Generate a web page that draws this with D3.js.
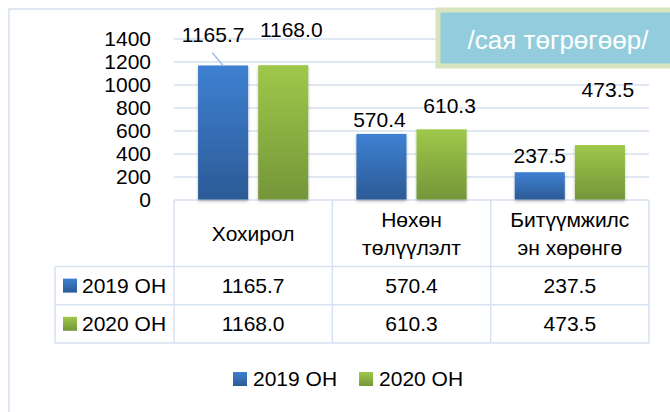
<!DOCTYPE html>
<html>
<head>
<meta charset="utf-8">
<script src="https://cdn.jsdelivr.net/npm/d3@7"></script>
<style>
  body { margin: 0; background: #fff; }
  text { font-family: "Liberation Sans", Arial, sans-serif; }
</style>
</head>
<body>
<div id="chart"></div>
<script>
// data
const categories = ['Хохирол', 'Нөхөн төлүүлэлт', 'Битүүмжилсэн хөрөнгө'];
const categoryLines = [['Хохирол'], ['Нөхөн', 'төлүүлэлт'], ['Битүүмжилс', 'эн хөрөнгө']];
const seriesNames = ['2019 ОН', '2020 ОН'];
const values2019 = [1165.7, 570.4, 237.5];
const values2020 = [1168.0, 610.3, 473.5];
const yTicks = [0, 200, 400, 600, 800, 1000, 1200, 1400];
const unitLabel = '/сая төгрөгөөр/';

// label nudges (px) - labels were moved by hand in the original
const labelNudge = [
  [[-10, -23], [8, -28]],
  [[-2, -7], [8, -16]],
  [[0, -9], [8, -48]]
];

const width = 670, height = 412;
const plot = {left: 174, right: 649, top: 38.5, bottom: 199.5};
const gridColor = '#d6e1f1';
const fontSize = '21px';
const colors = {
  '2019 ОН': ['#3f80d2', '#2c5b97'],
  '2020 ОН': ['#9ec84a', '#759639']
};

const series = [values2019, values2020];
const data = categories.map((c, i) => ({
  cat: c, i: i,
  vals: seriesNames.map((s, j) => ({name: s, value: series[j][i], j: j}))
}));

const svg = d3.select('#chart').append('svg')
  .attr('width', width).attr('height', height);

const defs = svg.append('defs');
seriesNames.forEach((s, j) => {
  const lg = defs.append('linearGradient')
    .attr('id', 'grad' + j)
    .attr('x1', 0).attr('y1', 0).attr('x2', 0).attr('y2', 1);
  lg.append('stop').attr('offset', '0%').attr('stop-color', colors[s][0]);
  lg.append('stop').attr('offset', '100%').attr('stop-color', colors[s][1]);
});
defs.append('filter').attr('id', 'shadow')
  .attr('x', '-20%').attr('y', '-10%').attr('width', '140%').attr('height', '130%')
  .append('feDropShadow')
  .attr('dx', 0).attr('dy', 2).attr('stdDeviation', 1.5)
  .attr('flood-color', '#000').attr('flood-opacity', 0.25);

// outer frame
svg.append('rect')
  .attr('x', 9).attr('y', 9).attr('width', 700).attr('height', 500)
  .attr('fill', 'none').attr('stroke', '#d5e0f0').attr('stroke-width', 1.5);

const x0 = d3.scaleBand()
  .domain(categories)
  .range([plot.left, plot.right])
  .padding(0);
const x1 = d3.scaleBand()
  .domain(seriesNames)
  .range([0, x0.bandwidth()])
  .paddingInner(1 / 6)
  .paddingOuter(0.4);
const y = d3.scaleLinear()
  .domain([0, 1400])
  .range([plot.bottom, plot.top]);

// y axis + gridlines
const yAxis = svg.append('g')
  .attr('transform', `translate(${plot.left},0)`)
  .call(d3.axisLeft(y)
    .tickValues(yTicks)
    .tickSize(-(plot.right - plot.left))
    .tickPadding(23)
    .tickFormat(d3.format('d')));
yAxis.select('.domain').remove();
yAxis.selectAll('.tick line')
  .attr('stroke', gridColor).attr('stroke-width', 1.5);
yAxis.selectAll('.tick text')
  .style('font-size', fontSize)
  .attr('fill', '#000');

// bars
const groups = svg.append('g').selectAll('g')
  .data(data)
  .join('g')
  .attr('transform', d => `translate(${x0(d.cat)},0)`);

groups.selectAll('rect')
  .data(d => d.vals)
  .join('rect')
  .attr('x', d => x1(d.name))
  .attr('y', d => y(d.value))
  .attr('width', x1.bandwidth())
  .attr('height', d => y(0) - y(d.value))
  .attr('fill', d => `url(#grad${d.j})`)
  .attr('filter', 'url(#shadow)');

// data labels
groups.each(function(d) {
  const g = d3.select(this);
  d.vals.forEach(v => {
    const nx = labelNudge[d.i][v.j][0];
    const ny = labelNudge[d.i][v.j][1];
    const cx = x1(v.name) + x1.bandwidth() / 2;
    g.append('text')
      .attr('x', cx + nx)
      .attr('y', y(v.value) + ny)
      .attr('text-anchor', 'middle')
      .style('font-size', fontSize)
      .text(v.value.toFixed(1));
  });
});

// leader line for the first label
{
  const c = categories[0], s = seriesNames[0];
  const cx = x0(c) + x1(s) + x1.bandwidth() / 2;
  svg.append('line')
    .attr('x1', cx - 11).attr('y1', y(values2019[0]) - 13)
    .attr('x2', cx).attr('y2', y(values2019[0]))
    .attr('stroke', '#9dc0e6').attr('stroke-width', 1.5);
}

// data table
const tbl = {left: 55, top: 200, head: 266.5, row: 38.2};
const tbottom = tbl.head + tbl.row * seriesNames.length;
const tg = svg.append('g')
  .attr('stroke', gridColor).attr('stroke-width', 1.5).attr('fill', 'none');
// vertical lines
x0.domain().concat(['end']).forEach((c, i) => {
  const xx = i < categories.length ? x0(c) : plot.right;
  tg.append('line')
    .attr('x1', xx).attr('x2', xx)
    .attr('y1', tbl.top).attr('y2', tbottom);
});
tg.append('line')
  .attr('x1', tbl.left).attr('x2', tbl.left)
  .attr('y1', tbl.head).attr('y2', tbottom);
// horizontal lines
d3.range(seriesNames.length + 1).forEach(k => {
  const yy = tbl.head + k * tbl.row;
  tg.append('line')
    .attr('x1', tbl.left).attr('x2', plot.right)
    .attr('y1', yy).attr('y2', yy);
});

// header texts
categoryLines.forEach((lines, i) => {
  const cx = x0(categories[i]) + x0.bandwidth() / 2;
  const cy = (tbl.top + tbl.head) / 2;
  lines.forEach((ln, k) => {
    svg.append('text')
      .attr('x', cx)
      .attr('y', cy + (k - (lines.length - 1) / 2) * 28)
      .attr('dy', '0.35em')
      .attr('text-anchor', 'middle')
      .style('font-size', fontSize)
      .text(ln);
  });
});

// table rows
seriesNames.forEach((s, j) => {
  const cy = tbl.head + (j + 0.5) * tbl.row;
  svg.append('rect')
    .attr('x', 63).attr('y', cy - 7)
    .attr('width', 14).attr('height', 14)
    .attr('fill', `url(#grad${j})`);
  svg.append('text')
    .attr('x', 82)
    .attr('y', cy).attr('dy', '0.35em')
    .style('font-size', fontSize)
    .text(s);
  categories.forEach((c, i) => {
    svg.append('text')
      .attr('x', x0(c) + x0.bandwidth() / 2)
      .attr('y', cy).attr('dy', '0.35em')
      .attr('text-anchor', 'middle')
      .style('font-size', fontSize)
      .text(series[j][i].toFixed(1));
  });
});

// legend
const legend = svg.append('g').attr('transform', 'translate(233,379)');
let lx = 0;
seriesNames.forEach((s, j) => {
  legend.append('rect')
    .attr('x', lx).attr('y', -7)
    .attr('width', 14).attr('height', 14)
    .attr('fill', `url(#grad${j})`);
  const t = legend.append('text')
    .attr('x', lx + 20).attr('y', 0).attr('dy', '0.35em')
    .style('font-size', fontSize)
    .text(s);
  lx += 20 + t.node().getComputedTextLength() + 22;
});

// unit box
svg.append('rect')
  .attr('x', 438).attr('y', 10)
  .attr('width', 260).attr('height', 56)
  .attr('fill', '#93cddd')
  .attr('stroke', '#d7e4bd').attr('stroke-width', 5);
svg.append('text')
  .attr('x', 558).attr('y', 40).attr('dy', '0.35em')
  .attr('text-anchor', 'middle')
  .attr('fill', '#fff')
  .style('font-size', '26px')
  .text(unitLabel);
</script>
</body>
</html>
